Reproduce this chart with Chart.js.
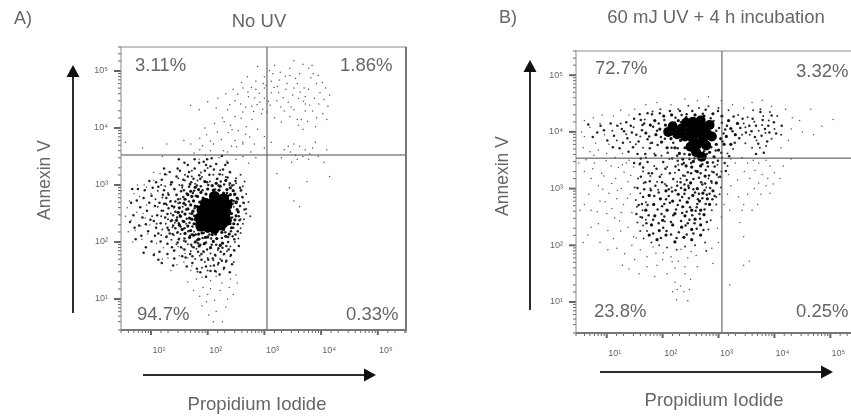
<!DOCTYPE html>
<html>
<head>
<meta charset="utf-8">
<title>Annexin V / Propidium Iodide</title>
<script src="https://cdn.jsdelivr.net/npm/chart.js@4/dist/chart.umd.min.js"></script>
<style>
    html, body { margin: 0; background: #fff; overflow: hidden; width: 851px; height: 418px; }
    canvas { position: absolute; top: 0; filter: blur(0.55px); }
</style>
</head>
<body>
<canvas id="panelA" width="425" height="418" style="left:0"></canvas>
<canvas id="panelB" width="440" height="418" style="left:425px"></canvas>
<script>
// Tick labels shared by both axes
const tickValues = [10, 100, 1000, 10000, 100000];
const tickLabels = ['10¹', '10²', '10³', '10⁴', '10⁵'];

// Quadrant gates (fluorescence intensity)
const gateA = { x: 1110, y: 3360 };
const gateB = { x: 1150, y: 3440 };

// Quadrant percentages
const percentsA = ['3.11%', '1.86%', '94.7%', '0.33%'];
const percentsB = ['72.7%', '3.32%', '23.8%', '0.25%'];

// Events, as [PI, Annexin V] in hundredths of a decade
const noUvCore = [[188,228],[200,226],[212,224],[224,230],[233,238],[186,242],[198,240],[210,238],[222,244],[232,252],[190,256],[202,254],[214,252],[226,258],[234,266],[196,268],[208,266],[220,270],[228,276],[212,280]];
const noUvDense = [
[195,306],[215,303],[232,308],[208,299],[178,296],[200,293],[222,298],[240,295],
[170,289],[188,287],[210,291],[228,286],[245,290],[165,283],[182,280],[197,284],[215,282],[236,281],[248,284],
[160,275],[175,272],[192,277],[205,274],[226,276],[242,273],[252,277],[158,268],[170,265],[186,270],[200,267],[238,266],[250,269],
[150,260],[165,258],[178,263],[192,259],[240,261],[252,257],[148,252],[160,249],[174,254],[188,251],[242,250],[254,253],
[152,245],[168,242],[182,247],[236,244],[250,246],[145,238],[158,236],[172,240],[186,235],[234,237],[248,239],
[150,230],[165,228],[180,232],[195,227],[232,229],[246,232],[155,222],[170,220],[186,224],[200,219],[228,222],[242,225],
[160,215],[175,212],[190,216],[208,213],[225,217],[238,214],[168,208],[184,205],[200,209],[216,206],[232,210],
[178,200],[194,197],[210,201],[226,198],[185,193],[205,190],[222,194],[176,232],[182,262],[172,250],[184,214],[196,208],[214,214],[240,283],[234,292],[220,291],[206,284],[184,292],[172,280]
];
const noUvFill = [
[163,241],[177,259],[149,233],[191,291],[244,267],[229,301],[157,279],[203,318],[181,203],[219,189],[139,247],[253,231],[167,297],[236,209],[143,271],[197,199],[173,227],[247,283],[211,327],[131,259],
[187,311],[159,224],[225,207],[153,289],[241,219],[171,305],[135,237],[257,263],[183,221],[147,217],[217,311],[127,277],[193,183],[261,279],[169,211],[239,303],[155,253],[213,177],[179,281],[141,293],
[233,193],[125,243],[199,305],[249,213],[161,201],[221,319],[137,263],[175,191],[243,299],[129,225],[207,195],[151,269],[255,245],[189,179],[165,315],[231,217],[119,255],[203,213],[145,283],[259,291],
[177,239],[223,183],[133,215],[195,325],[247,205],[161,265],[115,269],[181,299],[235,313],[149,205],[209,171],[123,291],[171,195],[251,271],[139,229],[227,327],[157,309],[191,207],[265,257],[117,233],
[143,253],[205,333],[173,175],[237,187],[127,209],[185,317],[245,225],[153,191],[219,299],[111,247],[163,285],[199,187],[257,295],[135,301],[179,213],[229,179],[107,263],[167,323],[243,243],[147,199],
[121,283],[201,169],[253,219],[155,299],[215,337],[131,221],[187,195],[239,323],[113,215],[175,311],[225,167],[141,185],[263,269],[193,341],[105,237],[159,187],[231,335],[123,267],[183,183],[249,307],
[101,281],[169,179],[219,163],[137,305],[197,335],[109,225],[241,177],[151,325],[129,197],[207,347],[93,255],[177,329],[255,193],[119,309],[161,173],[233,167],[99,239],[145,315],[189,169],[103,295],
[97,269],[117,201],[137,191],[185,339],[211,159],[165,335],[235,339],[91,231],[107,211],[125,319],[155,175],[197,157],[247,185],[87,277],[113,297],[199,345],[225,351],[173,163],[147,329],[85,243],
[81,261],[95,219],[109,305],[129,179],[141,171],[181,153],[213,149],[243,161],[79,229],[89,291],[101,201],[115,183],[133,323],[159,339],[177,345],[229,155],[75,273],[83,211],[97,307],[205,149],
[69,247],[77,293],[91,191],[113,169],[123,329],[149,345],[187,147],[221,143],[71,225],[65,269],[87,181],[105,177],[119,163],[139,159],[163,157],[197,139],[239,147],[63,235],[73,205],[67,293],
[134,271],[146,243],[152,227],[141,262],[158,291],[129,249],[166,219],[137,238],[148,275],[172,213],[156,237],[143,224],[162,257],[169,301],[131,283],[151,247],[138,214],[126,267],[159,206],[174,286],
[183,198],[193,216],[206,206],[215,195],[226,190],[244,210],[236,200],[167,271],[176,246],[168,234],[240,232],[256,238],[246,272],[234,286],[213,292],[201,300],[188,298],[176,290],[223,306],[193,271]
];
const noUvMid = [
[200,330],[222,326],[240,322],[258,318],[188,322],[210,318],[232,314],[250,312],[265,306],[172,315],[160,308],[182,308],[250,303],[262,298],[150,300],[168,302],
[142,292],[155,295],[258,290],[268,284],[130,286],[145,282],[152,276],[262,278],[272,270],[120,278],[135,272],[148,268],[264,268],[128,265],[140,260],[268,258],
[122,255],[135,250],[268,250],[275,245],[118,245],[130,240],[142,234],[264,240],[126,232],[138,226],[262,232],[258,224],[132,220],[146,216],[258,216],[140,212],[150,206],[254,206],
[248,200],[158,202],[165,196],[172,192],[240,192],[246,186],[180,188],[192,184],[205,180],[218,186],[234,184],[170,184],[186,176],[200,172],[214,176],[228,178],[195,165],[210,168],[222,170],[240,175],
[178,170],[205,158],[218,160],[190,155],[232,165],[200,150],[215,148],[182,148],[228,152],[246,165],
[118,300],[108,275],[112,262],[102,245],[110,232],[120,222],[128,210],[118,212],[136,204],[145,196],[112,290],[125,298],[135,305],[148,312],[160,318],[172,325],
[186,205],[176,218],[168,250],[156,262],[162,232],[152,214],[246,262],[258,240],[254,275],[246,300],[238,300],[226,318],[216,310],[204,306],[190,314],[178,302]
];
const noUvSparse = [
[58,260],[65,238],[72,220],[80,280],[86,250],[92,265],[70,285],[60,218],[98,230],[76,300],[92,296],[105,308],[84,205],[94,214],[110,198],[122,190],[68,200],[100,285],[55,245],[62,272],[82,228],[88,300],[116,320],[105,322],[128,318],[75,252],[90,242],
[106,180],[130,172],[140,184],[150,176],[160,180],[120,170],[146,160],[135,150],[158,165],[170,150],[180,135],[172,158],[190,138],[205,132],[215,140],[225,128],[240,135],[238,120],[250,142],[165,130],[192,120],[200,108],
[175,115],[165,172],[148,192],[156,188],[235,100],[245,108],[222,115],[212,98],[186,105],
[222,45],[210,60],[198,95],[232,86],[202,72],[215,78],[190,88],[226,60],[205,118],[252,128],
[185,345],[196,352],[176,356],[205,360],[220,348],[234,342],[250,345],[262,350],[272,338],[228,360],[242,368],[186,362],[276,358],[285,348],
[158,378],[170,372],[186,382],[198,388],[210,372],[224,380],[236,392],[248,378],[262,372],[274,384],[282,372],[195,400],[212,408],[226,418],[240,405],[254,395],[268,402],[288,398],[300,385],[300,365],[312,375],[235,432],[248,420],[215,435],[262,428],[278,415],
[170,440],[185,432],[200,446],[218,452],[232,460],[245,468],[258,442],[272,455],[285,468],[248,448],[262,470],[278,438],[292,445],[305,428],[318,418],[295,425],[310,440],[322,448],[335,430],[345,420],[330,410],[342,445],[352,432],[358,415],[325,462],[338,468],[350,458],[312,462],[300,452],[298,478],[312,482],[326,484],[340,478],[352,470],[360,452],
[270,490],[285,482],[300,490],[315,495],[328,498],[345,492],[358,478],[370,470],[372,455],[380,440],[386,495],[362,495],[378,505],[372,430],[345,505],[318,510],[288,508],[300,470],[260,480],
[335,362],[346,358],[355,352],[362,368],[372,362],[380,355],[368,350],[352,372],[342,368],[385,365],[358,345],[378,345],[390,375],[395,350],[410,362],[405,340],[330,348],[348,340],
[322,320],[344,295],[352,272],[362,262],[375,306],[415,315],[120,350],[128,372],[85,365],[55,375],[45,340],[262,375],[235,358],
[283,453],[267,437],[291,461],[307,447],[277,471],[253,459],[239,441],[329,437],[317,471],[333,453],[347,437],[303,475],[287,441],[271,463],[297,433],[259,417],[281,429],[243,397],[229,411],[267,389],[205,377],[217,393],[191,369],[251,367],[369,447],[363,463],[355,487],[337,491],[323,473],[309,501],
[365,415],[372,442],[378,468],[385,430],[388,452],[392,478],[396,442],[398,462],[403,425],[405,450],[408,470],[412,438],[415,458],[392,418],[382,488],[376,412],[368,398],[390,402],[402,480],[360,405],[395,492],[410,415],[384,510],[368,512],[352,518]
];

const uvCore = [[210,400],[218,410],[226,396],[234,406],[240,392],[242,416],[250,402],[254,388],[260,412],[264,398],[272,386],[274,408],[280,396],[284,412],[278,376],[262,378],[250,374],[260,364],[270,356],[254,418],[288,392],[268,420]];
const uvDense = [
[205,412],[218,398],[228,420],[232,385],[222,408],[242,425],[258,430],[274,428],[290,432],[306,428],[318,420],[322,406],[314,392],[304,388],[296,378],
[215,388],[240,372],[248,360],[272,352],[284,364],[292,356],[300,368],[310,378],[230,362],[222,372],[236,352],[255,348],[268,340],[280,346],[262,330],[276,322],[252,338],[242,340],
[195,405],[188,395],[178,412],[170,398],[198,382],[208,372],[186,420],[202,428],[216,430],[330,395],[334,415],[322,378],
[250,310],[262,300],[240,298],[272,292],[228,290],[254,288],[280,282],[266,278],[244,276],[236,268],[252,262],[268,262],[284,272],[218,278],[206,296],[196,282],[184,272],[176,288],[208,262],[222,256],[240,252],[258,246],[274,254],[290,296],[296,310],
[170,262],[186,252],[200,244],[218,236],[234,232],[252,228],[268,236],[180,236],[194,226],[176,218],[190,210],[206,218],[222,206],[238,214],[252,210],[268,218]
];
const uvFill = [
[211,403],[233,417],[197,391],[247,379],[183,409],[263,423],[219,381],[291,419],[173,387],[239,361],[301,407],[227,371],[163,403],[279,361],[203,421],[257,353],[309,397],[191,377],[243,431],[295,367],
[153,395],[271,343],[223,425],[181,381],[287,373],[209,363],[315,411],[167,415],[251,345],[299,349],[143,411],[235,343],[193,415],[277,333],[157,383],[307,383],[217,353],[265,319],[177,371],[325,401],
[137,389],[245,329],[201,347],[283,323],[147,373],[229,333],[161,421],[255,317],[187,359],[293,339],[127,405],[213,327],[173,347],[271,307],[239,307],[129,381],[199,311],[285,301],[165,337],[223,297],
[255,299],[181,327],[293,287],[211,287],[169,311],[247,283],[193,293],[277,273],[227,271],[179,297],[261,267],[203,273],[289,281],[165,285],[243,259],[191,263],[275,263],[219,253],[173,271],[257,239],
[183,245],[233,243],[267,247],[201,231],[163,273],[245,239],[215,219],[279,241],[175,253],[229,223],[193,239],[261,229],[183,221],[243,219],[207,225],[171,239],[273,227],[197,213],[225,213],[255,221],
[161,321],[189,335],[219,317],[247,301],[275,297],[303,321],[155,301],[207,305],[235,285],[263,281],[195,321],[159,343],[223,339],[311,345],[281,339],[177,313],[233,301],[297,325],[213,275],[305,363],
[119,411],[135,417],[113,393],[107,415],[95,403],[101,385],[123,371],[83,399],[149,423],[89,411],[139,365],[155,361],[169,361],[111,373],[75,391],[131,401],[145,399],[181,431],[159,431],[67,413],
[231,437],[253,437],[277,439],[299,437],[327,427],[213,437],[195,433],[173,433],[339,407],[343,423],[329,381],[319,357],[337,389],[313,331],[161,353],[149,345],[167,299],[157,271],[163,249],[153,255],
[359,401],[367,411],[377,393],[383,405],[371,379],[389,411],[379,421],[355,411],[365,391],[391,399],[399,417],[387,383],[403,397],[375,435],[361,423],[349,399],[395,429],[413,411],[381,363],[367,361],
[249,267],[269,311],[237,323],[205,335],[259,331],[287,313],[199,269],[217,295],[241,235],[185,287],[227,349],[291,329],[251,327],[175,327],[265,291],[215,241],[203,251],[279,289],[235,257],[187,305],
[258,293],[246,305],[262,273],[231,279],[253,253],[271,283],[224,263],[239,291],[266,255],[211,299],[248,245],[276,309],[232,311],[206,281],[268,327],[243,315],[226,305],[259,261],[284,291],[198,255],
[238,345],[262,358],[248,352],[274,366],[290,346],[226,358],[216,372],[204,388],[190,402],[176,392],[164,412],[232,398],[246,420],[296,402],[306,416],[312,404],[286,424],[272,432],[234,430],[222,416]
];
const uvMid = [
[160,392],[148,408],[135,396],[125,415],[152,378],[165,372],[178,380],[142,382],[118,385],[110,402],[168,422],[182,436],[196,440],[228,440],[246,446],[265,442],[282,445],[300,442],[318,438],[335,430],[345,415],[342,395],
[212,352],[198,358],[185,362],[170,355],[160,345],[208,338],[222,328],[232,318],[198,325],[185,340],[288,330],[298,342],[306,355],[316,362],[326,370],[228,342],[305,330],[316,340],
[165,330],[178,322],[190,312],[204,308],[216,302],[226,312],[178,300],[166,310],[156,318],[288,310],[300,320],[304,302],[282,318],[240,322],
[160,292],[152,280],[170,276],[164,262],[154,268],[192,298],[150,302],[296,285],[288,262],[296,272],[302,290],[278,302],
[160,250],[170,245],[165,235],[155,240],[172,225],[166,212],[180,205],[194,200],[208,196],[225,192],[240,198],[258,200],[276,205],[282,228],[286,244],[278,190],[160,225],[204,242],
[348,408],[356,395],[364,418],[352,426],[372,402],[384,398],[368,385],[378,412],[390,420],[400,405],[395,388],[385,375],[374,372],[360,372],[380,428],[392,435],[405,428],[412,395],[375,440],[362,438],[348,380]
];
const uvSparse = [
[60,392],[70,408],[80,380],[88,415],[96,395],[104,378],[112,428],[125,438],[92,430],[76,425],[60,420],[55,400],[140,430],[150,440],[128,362],[115,355],[100,362],[85,368],[70,365],[58,372],[140,350],[128,342],[148,338],
[170,448],[190,452],[215,448],[240,458],[262,455],[282,462],[305,455],[325,448],[345,442],[360,452],[378,456],[395,445],[420,440],[432,425],[445,420],[450,400],[465,440],[505,422],[485,410],[470,395],[430,405],[425,385],[412,372],
[330,345],[322,352],[318,325],[322,305],[316,290],[310,272],[320,262],[305,250],[298,230],[300,205],[342,355],[352,345],[346,330],[334,315],[362,350],[336,285],[342,262],
[385,350],[372,345],[392,340],[365,332],[378,325],[388,318],[400,328],[372,310],[385,305],[398,308],[410,318],[416,340],[364,300],[356,318],[376,290],[392,292],[352,290],[345,272],[338,240],[360,262],[370,272],[430,352],[345,215],
[60,330],[72,318],[85,305],[68,290],[60,272],[52,262],[72,262],[88,278],[95,322],[108,340],[116,318],[126,300],[104,292],[118,282],[130,272],[100,256],[114,248],[126,258],[138,232],[125,225],[112,212],[102,226],[85,238],[72,232],[88,205],[66,218],[58,205],[138,312],[142,290],[135,345],[145,258],[148,215],[78,345],[50,345],
[145,200],[160,192],[172,180],[188,186],[200,175],[215,180],[228,172],[245,178],[260,182],[240,162],[222,160],[208,150],[190,165],[172,162],[150,175],[132,185],[118,195],[102,192],[128,165],[140,158],[158,150],[186,145],[240,150],[250,140],[222,135],[232,128],[226,122],[238,118],[218,118],[248,122],[288,195],[262,162],
[345,165],[355,172],[290,168],[320,130],[225,104],[245,102],
[91,327],[99,349],[121,337],[77,359],[63,351],[109,309],[131,329],[143,323],[119,297],[97,277],[83,259],[137,283],[123,243],[109,265],[93,299],[75,335],[153,213],[201,187],[233,193],[217,171],[183,197],[251,189]
];

// Layout of each panel on the page
const panelA = {
    canvas: 'panelA', area: { left: 121, top: 47, right: 406, bottom: 330 },
    x: { min: 2.96, max: 314000 }, y: { min: 2.86, max: 263600 },
    gate: gateA, core: noUvCore, dense: noUvDense, fill: noUvFill, mid: noUvMid, sparse: noUvSparse,
    coreRadius: 5.5,
    letter: ['A)', 14, 19], title: ['No UV', 259, 22],
    yTitle: ['Annexin V', 45, 180], xTitle: ['Propidium Iodide', 257, 405],
    yArrow: [73, 313, 65], xArrow: [375, 143, 376],
    percents: percentsA,
    percentPos: [[135, 66], [340, 66], [137, 315], [346, 315]]
};
const panelB = {
    canvas: 'panelB', area: { left: 151, top: 51, right: 436, bottom: 333 },
    x: { min: 2.82, max: 312600 }, y: { min: 2.84, max: 267000 },
    gate: gateB, core: uvCore, dense: uvDense, fill: uvFill, mid: uvMid, sparse: uvSparse,
    coreRadius: 5,
    letter: ['B)', 74, 18], title: ['60 mJ UV + 4 h incubation', 291, 18],
    yTitle: ['Annexin V', 78, 176], xTitle: ['Propidium Iodide', 289, 401],
    yArrow: [105, 310, 60], xArrow: [372, 175, 408],
    percents: percentsB,
    percentPos: [[170, 69], [371, 72], [169, 312], [371, 312]]
};

function toPoints(events) {
    return events.map(e => ({ x: Math.pow(10, e[0] / 100), y: Math.pow(10, e[1] / 100) }));
}

function dots(events, radius, color) {
    return { type: 'scatter', data: toPoints(events), pointRadius: radius, pointBackgroundColor: color, pointBorderWidth: 0 };
}

function gateLine(points) {
    return { type: 'scatter', data: points, showLine: true, pointRadius: 0, borderColor: '#4a4a4a', borderWidth: 1 };
}

function tickLabel(value) {
    const i = tickValues.findIndex(t => Math.abs(t - value) < t * 1e-6);
    return i >= 0 ? tickLabels[i] : '';
}

// Minor and major tick marks, frame, labels and arrows
const panelDecor = {
    id: 'panelDecor',
    afterDraw(chart, args, opts) {
        const ctx = chart.ctx, a = chart.chartArea, p = opts.panel;
        ctx.save();
        ctx.strokeStyle = '#666';

        chart.scales.x.ticks.forEach(t => {
            const major = tickLabel(t.value) !== '';
            const px = chart.scales.x.getPixelForValue(t.value);
            ctx.lineWidth = major ? 2 : 1;
            ctx.beginPath();
            ctx.moveTo(px, a.bottom);
            ctx.lineTo(px, a.bottom + (major ? 5 : 3));
            ctx.stroke();
        });
        chart.scales.y.ticks.forEach(t => {
            const major = tickLabel(t.value) !== '';
            const py = chart.scales.y.getPixelForValue(t.value);
            ctx.lineWidth = major ? 2 : 1;
            ctx.beginPath();
            ctx.moveTo(a.left, py);
            ctx.lineTo(a.left - (major ? 7 : 3), py);
            ctx.stroke();
        });

        ctx.lineWidth = 1;
        ctx.strokeStyle = '#8a8a8a';
        ctx.strokeRect(a.left, a.top, a.right - a.left, a.bottom - a.top);
        ctx.lineWidth = 2;
        ctx.strokeStyle = '#777';
        ctx.beginPath();
        ctx.moveTo(a.left, a.bottom);
        ctx.lineTo(a.right, a.bottom);
        ctx.lineTo(a.right, a.top);
        ctx.stroke();

        ctx.fillStyle = '#666';
        ctx.font = '18.5px "Liberation Sans", Arial, sans-serif';
        ctx.textBaseline = 'middle';
        ctx.textAlign = 'left';
        p.percents.forEach((text, i) => ctx.fillText(text, p.percentPos[i][0], p.percentPos[i][1]));
        ctx.font = '18px "Liberation Sans", Arial, sans-serif';
        ctx.fillText(p.letter[0], p.letter[1], p.letter[2]);

        ctx.font = '18.5px "Liberation Sans", Arial, sans-serif';
        ctx.textAlign = 'center';
        ctx.fillText(p.title[0], p.title[1], p.title[2]);
        ctx.fillText(p.xTitle[0], p.xTitle[1], p.xTitle[2]);
        ctx.font = '17.5px "Liberation Sans", Arial, sans-serif';
        ctx.save();
        ctx.translate(p.yTitle[1], p.yTitle[2]);
        ctx.rotate(-Math.PI / 2);
        ctx.fillText(p.yTitle[0], 0, 0);
        ctx.restore();

        // Arrows beside the axes
        ctx.strokeStyle = '#2b2b2b';
        ctx.fillStyle = '#111';
        ctx.lineWidth = 2;
        const [vx, vBottom, vTip] = p.yArrow;
        ctx.beginPath();
        ctx.moveTo(vx, vBottom);
        ctx.lineTo(vx, vTip + 8);
        ctx.stroke();
        ctx.beginPath();
        ctx.moveTo(vx, vTip);
        ctx.lineTo(vx - 6.5, vTip + 12);
        ctx.lineTo(vx + 6.5, vTip + 12);
        ctx.fill();
        const [hy, hLeft, hTip] = p.xArrow;
        ctx.beginPath();
        ctx.moveTo(hLeft, hy);
        ctx.lineTo(hTip - 8, hy);
        ctx.stroke();
        ctx.beginPath();
        ctx.moveTo(hTip, hy);
        ctx.lineTo(hTip - 12, hy - 6.5);
        ctx.lineTo(hTip - 12, hy + 6.5);
        ctx.fill();
        ctx.restore();
    }
};

function drawPanel(p) {
    const canvas = document.getElementById(p.canvas);
    const tickFont = { family: '"Liberation Sans", Arial, sans-serif', size: 9 };
    new Chart(canvas, {
        type: 'scatter',
        data: {
            datasets: [
                gateLine([{ x: p.gate.x, y: p.y.min }, { x: p.gate.x, y: p.y.max }]),
                gateLine([{ x: p.x.min, y: p.gate.y }, { x: p.x.max, y: p.gate.y }]),
                dots(p.core, p.coreRadius, '#000'),
                dots(p.dense, 1.6, '#111'),
                dots(p.fill, 1.25, '#222'),
                dots(p.mid, 1, '#333'),
                dots(p.sparse, 0.75, '#555')
            ]
        },
        options: {
            responsive: false,
            animation: false,
            events: [],
            layout: { padding: { left: 0, top: p.area.top, right: canvas.width - p.area.right, bottom: 0 } },
            plugins: { legend: { display: false }, tooltip: { enabled: false }, panelDecor: { panel: p } },
            scales: {
                x: {
                    type: 'logarithmic',
                    min: p.x.min,
                    max: p.x.max,
                    grid: { display: false },
                    border: { display: false },
                    afterFit(scale) { scale.height = canvas.height - p.area.bottom; },
                    ticks: { autoSkip: false, maxRotation: 0, color: '#666', font: tickFont, padding: 7, labelOffset: 8, callback: tickLabel }
                },
                y: {
                    type: 'logarithmic',
                    min: p.y.min,
                    max: p.y.max,
                    grid: { display: false },
                    border: { display: false },
                    afterFit(scale) { scale.width = p.area.left; },
                    ticks: { autoSkip: false, color: '#666', font: tickFont, padding: 5, callback: tickLabel }
                }
            }
        },
        plugins: [panelDecor]
    });
}

drawPanel(panelA);
drawPanel(panelB);
</script>
</body>
</html>
